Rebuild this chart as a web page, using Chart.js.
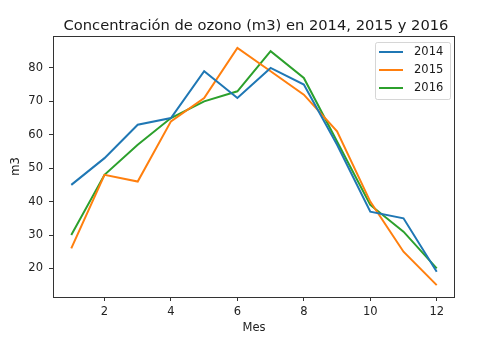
<!DOCTYPE html>
<html>
<head>
<meta charset="utf-8">
<script src="https://cdn.jsdelivr.net/npm/chart.js@4"></script>
<style>
html,body{margin:0;padding:0;background:#fff;}
#wrap{width:480px;height:343px;position:relative;}
</style>
</head>
<body>
<div id="wrap"><canvas id="c" width="480" height="343"></canvas></div>
<script>
const months = [1,2,3,4,5,6,7,8,9,10,11,12];
const ozone2014 = [45,53,63,65,79,71,80,75,57,37,35,19];
const ozone2015 = [26,48,46,64,71,86,79,72,61,40,25,15];
const ozone2016 = [30,48,57,65,70,73,85,77,58,39,31,20];
const seriesLabels = ['2014','2015','2016'];
const xTicks = [2,4,6,8,10,12];
const yTicks = [20,30,40,50,60,70,80];
const titleText = 'Concentración de ozono (m3) en 2014, 2015 y 2016';
const xLabel = 'Mes';
const yLabel = 'm3';

const colors = ['#1f77b4','#ff7f0e','#2ca02c'];
const FONT = 'DejaVu Sans';
const allSeries = [ozone2014, ozone2015, ozone2016];

const datasets = allSeries.map((s,i)=>({
  label: seriesLabels[i],
  data: months.map((m,j)=>({x:m,y:s[j]})),
  borderColor: colors[i],
  backgroundColor: colors[i],
  borderWidth: 2,
  pointRadius: 0,
  tension: 0,
  fill: false
}));

const frame = {
  id:'frame',
  afterDraw(chart){
    const {ctx, chartArea:a} = chart;
    ctx.save();
    ctx.strokeStyle = '#333';
    ctx.lineWidth = 1;
    ctx.strokeRect(Math.round(a.left)+0.5, Math.round(a.top)+0.5, Math.round(a.right-a.left)-1, Math.round(a.bottom-a.top));
    // title
    ctx.fillStyle = '#1a1a1a';
    ctx.font = '14.7px "' + FONT + '"';
    ctx.textAlign = 'center';
    ctx.textBaseline = 'alphabetic';
    ctx.fillText(titleText, (a.left+a.right)/2 + 2, 30);
    // legend
    const lx = 375, ly = 42, lw = 75, lh = 57;
    ctx.globalAlpha = 0.8;
    ctx.fillStyle = '#fff';
    ctx.strokeStyle = '#cccccc';
    ctx.beginPath();
    if (ctx.roundRect) ctx.roundRect(lx+0.5, ly+0.5, lw, lh, 2); else ctx.rect(lx+0.5, ly+0.5, lw, lh);
    ctx.fill(); ctx.stroke();
    ctx.globalAlpha = 1;
    ctx.font = '11.5px "' + FONT + '"';
    ctx.textAlign = 'left';
    ctx.textBaseline = 'middle';
    seriesLabels.forEach((lab,i)=>{
      const y = 52 + i*18;
      ctx.strokeStyle = colors[i];
      ctx.lineWidth = 2;
      ctx.beginPath(); ctx.moveTo(379, y); ctx.lineTo(403, y); ctx.stroke();
      ctx.fillStyle = '#1a1a1a';
      ctx.fillText(lab, 414, y+0.5);
    });
    ctx.restore();
  }
};

new Chart(document.getElementById('c'), {
  type: 'line',
  data: { datasets },
  options: {
    responsive: false,
    animation: false,
    layout: { padding: { left: 0, top: 36, right: 25, bottom: 0 } },
    plugins: { legend: { display: false }, title: { display: false }, tooltip: { enabled: false } },
    scales: {
      x: {
        type: 'linear',
        min: 0.45, max: 12.55,
        afterBuildTicks: s => { s.ticks = xTicks.map(v=>({value:v})); },
        afterFit: s => { s.height = 46; },
        grid: { drawOnChartArea: false, drawTicks: true, tickLength: 4, color: '#333', tickColor: '#333' },
        border: { display: false },
        ticks: { color: '#222', font: { family: FONT, size: 11.5 }, padding: 4, maxRotation: 0, autoSkip: false },
        title: { display: true, text: xLabel, color: '#222', font: { family: FONT, size: 11.5 }, padding: { top: 0, bottom: 8 } }
      },
      y: {
        type: 'linear',
        min: 11.45, max: 89.55,
        afterBuildTicks: s => { s.ticks = yTicks.map(v=>({value:v})); },
        afterFit: s => { s.width = 53; },
        grid: { drawOnChartArea: false, drawTicks: true, tickLength: 4, color: '#333', tickColor: '#333' },
        border: { display: false },
        ticks: { color: '#222', font: { family: FONT, size: 11.5 }, padding: 6, autoSkip: false },
        title: { display: true, text: yLabel, color: '#222', font: { family: FONT, size: 11.5 }, padding: { top: 9, bottom: 0 } }
      }
    }
  },
  plugins: [frame]
});
</script>
</body>
</html>
